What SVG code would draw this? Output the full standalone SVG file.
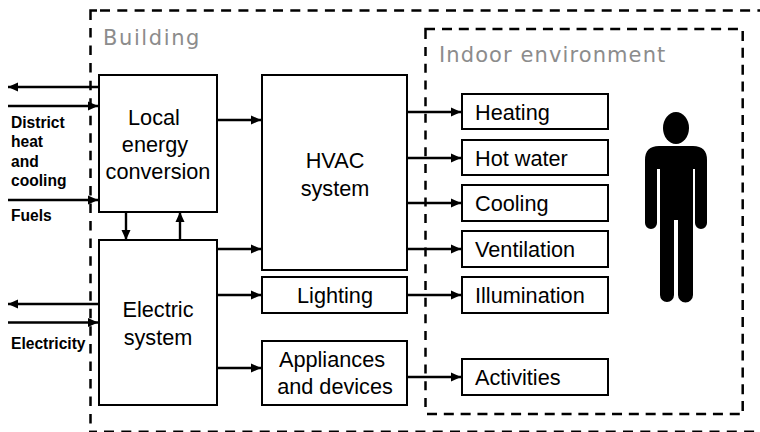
<svg xmlns="http://www.w3.org/2000/svg" width="760" height="432" viewBox="0 0 760 432">
<style>
.box{fill:#fff;stroke:#000;stroke-width:2}
.dash{fill:none;stroke:#000;stroke-width:2.5}
.o{stroke-dasharray:10 7.3}
.i{stroke-dasharray:10 6.82}
.c{fill:none;stroke:#000;stroke-width:2.4;marker-end:url(#a)}
text{font-family:"Liberation Sans",Arial,sans-serif;fill:#000}
.t{font-size:21.7px}
.m{text-anchor:middle}
.b{font-size:15.6px;font-weight:bold}
.g{font-family:"DejaVu Sans",sans-serif;font-size:21px;fill:#8c8c8c}
</style>
<defs>
<marker id="a" markerUnits="userSpaceOnUse" markerWidth="12" markerHeight="12" refX="10" refY="6" orient="auto"><path d="M0 1.500L10 6L0 10.500z" fill="#000"/></marker>
</defs>
<g id="building-frame">
<path class="dash" d="M97 10.500H90.500V20"/>
<path class="dash o" d="M100 10.500H760"/>
<path class="dash" style="stroke-dasharray:9.500 8.050" d="M90.500 28V424"/>
<path class="dash" d="M89 431.800H97"/>
<path class="dash o" d="M104 431.800H757"/>
</g>
<g id="indoor-frame">
<path class="dash" d="M435 29H425.500V39"/>
<path class="dash i" d="M442 29H738"/>
<path class="dash" style="stroke-dasharray:9 7.710" d="M425.500 47V409"/>
<path class="dash i" d="M742.700 31V411"/>
<path class="dash i" d="M427 414H740"/>
</g>
<text class="g" style="letter-spacing:1.6px" x="103" y="45">Building</text>
<text class="g" style="letter-spacing:1.1px" x="439" y="62">Indoor environment</text>
<g id="connectors">
<path class="c" d="M99 87H8"/>
<path class="c" d="M8 106H98"/>
<path class="c" d="M8 200H98"/>
<path class="c" d="M126 212V240"/>
<path class="c" d="M180 240V212"/>
<path class="c" d="M99 304H8"/>
<path class="c" d="M8 322.500H98"/>
<path class="c" d="M217 120H261"/>
<path class="c" d="M217 249H261"/>
<path class="c" d="M217 295H261"/>
<path class="c" d="M217 368H261"/>
<path class="c" d="M407 112H461"/>
<path class="c" d="M407 158H461"/>
<path class="c" d="M407 203H461"/>
<path class="c" d="M407 249H461"/>
<path class="c" d="M407 295H461"/>
<path class="c" d="M407 377H461"/>
</g>
<g id="local"><rect class="box" x="99" y="75" width="118" height="137"/><text class="t m" x="154" y="125">Local</text><text class="t m" x="155" y="152">energy</text><text class="t m" x="158" y="179">conversion</text></g>
<g id="electric"><rect class="box" x="99" y="240" width="118" height="165"/><text class="t m" x="158" y="317">Electric</text><text class="t m" x="158" y="345">system</text></g>
<g id="hvac"><rect class="box" x="262" y="75" width="145" height="195"/><text class="t m" x="335" y="168">HVAC</text><text class="t m" x="335" y="196">system</text></g>
<g id="lighting"><rect class="box" x="262" y="277" width="145" height="36"/><text class="t m" x="335" y="303">Lighting</text></g>
<g id="appliances"><rect class="box" x="262" y="341" width="145" height="64"/><text class="t m" x="332" y="367">Appliances</text><text class="t m" x="335" y="394">and devices</text></g>
<g id="heating"><rect class="box" x="462" y="94" width="146" height="35"/><text class="t" x="475" y="120">Heating</text></g>
<g id="hotwater"><rect class="box" x="462" y="140" width="146" height="35"/><text class="t" x="475" y="166">Hot water</text></g>
<g id="cooling"><rect class="box" x="462" y="185" width="146" height="36"/><text class="t" x="475" y="211">Cooling</text></g>
<g id="ventilation"><rect class="box" x="462" y="231" width="146" height="36"/><text class="t" x="475" y="257">Ventilation</text></g>
<g id="illumination"><rect class="box" x="462" y="277" width="146" height="36"/><text class="t" x="475" y="303">Illumination</text></g>
<g id="activities"><rect class="box" x="462" y="359" width="146" height="36"/><text class="t" x="475" y="385">Activities</text></g>
<text class="b" x="11" y="128">District</text>
<text class="b" x="11" y="147">heat</text>
<text class="b" x="11" y="167">and</text>
<text class="b" x="11" y="186">cooling</text>
<text class="b" x="11" y="221">Fuels</text>
<text class="b" x="11" y="349">Electricity</text>
<g id="person">
<ellipse cx="676" cy="128" rx="13" ry="16"/>
<path d="M659 146H693Q707 146 707 160V223A6 6 0 0 1 695 223V169H693V295A7.500 7.500 0 0 1 678 295V220H674V295A7 7 0 0 1 660 295V169H657V223A6 6 0 0 1 645 223V160Q645 146 659 146z"/>
</g>
</svg>
